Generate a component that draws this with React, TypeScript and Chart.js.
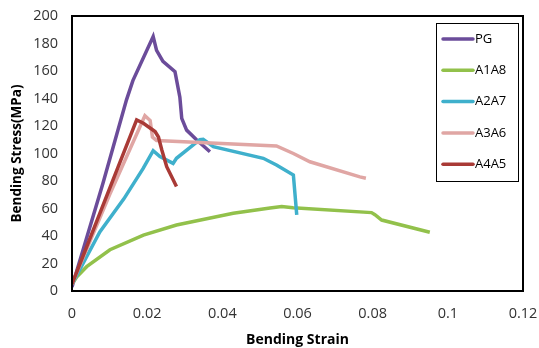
import React, { useEffect, useRef } from "react";
import { Chart, registerables } from "chart.js";

Chart.register(...registerables);

const seriesNames = ["PG", "A1A8", "A2A7", "A3A6", "A4A5"];
const seriesColors = ["#6B4C9A", "#92C14B", "#3FB0CC", "#E0A6A4", "#A93A36"];

const pgStrain = [0, 0.0082, 0.0145, 0.0162, 0.0216, 0.0225, 0.0242, 0.0274, 0.0287, 0.0292, 0.0305, 0.0332, 0.0367];
const pgStress = [3, 78, 139, 153, 185, 175, 167, 159.5, 141, 125.6, 117, 109.8, 101.3];

const a1a8Strain = [0, 0.0013, 0.0039, 0.0101, 0.019, 0.0278, 0.0429, 0.0527, 0.0558, 0.0588, 0.0797, 0.0806, 0.0824, 0.0952];
const a1a8Stress = [5, 10.4, 17.7, 30, 40.7, 48, 56.5, 60.4, 61.4, 60.6, 57, 55.5, 51.6, 42.7];

const a2a7Strain = [0, 0.0074, 0.0138, 0.0189, 0.0216, 0.0234, 0.0269, 0.0278, 0.034, 0.0349, 0.0376, 0.0509, 0.0544, 0.0589, 0.0598];
const a2a7Stress = [5, 43, 67, 89, 102, 97.7, 92.8, 96.5, 110, 110.3, 105, 96.5, 91.6, 84.4, 55.3];

const a3a6Strain = [0, 0.01, 0.0185, 0.0194, 0.0208, 0.0214, 0.0225, 0.0544, 0.0589, 0.0633, 0.0766, 0.0782];
const a3a6Stress = [5, 70, 122, 127.5, 124, 112, 109.5, 105.5, 100, 94, 83, 82];

const a4a5Strain = [0, 0.0172, 0.019, 0.0221, 0.023, 0.0239, 0.0252, 0.0278];
const a4a5Stress = [5, 124.4, 122, 116, 112, 102.5, 90.4, 76];

const strainSets = [pgStrain, a1a8Strain, a2a7Strain, a3a6Strain, a4a5Strain];
const stressSets = [pgStress, a1a8Stress, a2a7Stress, a3a6Stress, a4a5Stress];

const xTitle = "Bending Strain";
const yTitle = "Bending Stress(MPa)";

const framePlugin = {
  id: "frame",
  afterDatasetsDraw(chart: any) {
    const { ctx, chartArea: a } = chart;
    ctx.save();
    ctx.strokeStyle = "#000";
    ctx.lineWidth = 2;
    ctx.strokeRect(a.left, a.top, a.right - a.left, a.bottom - a.top);
    ctx.restore();
  },
};

const legendPlugin = {
  id: "boxLegend",
  afterDraw(chart: any) {
    const { ctx } = chart;
    const x0 = 436, y0 = 23, w = 82, h = 158;
    ctx.save();
    ctx.fillStyle = "#fff";
    ctx.fillRect(x0, y0, w, h);
    ctx.strokeStyle = "#000";
    ctx.lineWidth = 1;
    ctx.strokeRect(x0 + 0.5, y0 + 0.5, w, h);
    ctx.font = "13px 'Open Sans'";
    ctx.textBaseline = "middle";
    chart.data.datasets.forEach((ds: any, i: number) => {
      const y = 39 + i * 31.3;
      ctx.strokeStyle = ds.borderColor;
      ctx.lineWidth = 3.5;
      ctx.lineCap = "round";
      ctx.beginPath();
      ctx.moveTo(443, y);
      ctx.lineTo(473, y);
      ctx.stroke();
      ctx.fillStyle = "#000";
      ctx.fillText(ds.label, 475, y);
    });
    ctx.restore();
  },
};

export default function App() {
  const ref = useRef<HTMLCanvasElement>(null);
  useEffect(() => {
    const datasets = seriesNames.map((name, i) => ({
      label: name,
      data: strainSets[i].map((x, j) => ({ x, y: stressSets[i][j] })),
      borderColor: seriesColors[i],
      backgroundColor: seriesColors[i],
      borderWidth: 3.5,
      pointRadius: 0,
      tension: 0,
      fill: false,
      order: seriesNames.length - i,
    }));
    const tickFont = { family: "'Open Sans'", size: 14.5 };
    const chart = new Chart(ref.current!, {
      type: "line",
      data: { datasets },
      options: {
        animation: false,
        responsive: false,
        layout: { padding: { left: 0, right: 16, top: 16, bottom: 0 } },
        plugins: { legend: { display: false }, tooltip: { enabled: false } },
        scales: {
          x: {
            type: "linear",
            min: 0,
            max: 0.12,
            grid: { display: false, drawTicks: false },
            border: { display: false },
            ticks: {
              stepSize: 0.02,
              padding: 14,
              color: "#333",
              font: tickFont,
              maxRotation: 0,
              callback: (v: any) => String(Number(Number(v).toFixed(2))),
            },
            title: {
              display: true,
              text: xTitle,
              color: "#000",
              font: { family: "'Open Sans'", size: 14, weight: "bold" },
              padding: { top: 0, bottom: 0 },
            },
            afterFit: (s: any) => {
              s.height = 57;
              s.paddingLeft = 0;
              s.paddingRight = 0;
            },
          },
          y: {
            type: "linear",
            min: 0,
            max: 200,
            grid: { display: false, drawTicks: false },
            border: { display: false },
            ticks: { stepSize: 20, padding: 14, color: "#333", font: tickFont },
            title: {
              display: true,
              text: yTitle,
              color: "#000",
              font: { family: "'Open Sans'", size: 13.5, weight: "bold" },
              padding: { top: 9, bottom: 0 },
            },
            afterFit: (s: any) => {
              s.width = 72;
              s.paddingTop = 0;
              s.paddingBottom = 0;
            },
          },
        },
      },
      plugins: [framePlugin, legendPlugin],
    });
    return () => chart.destroy();
  }, []);
  return (
    <div style={{ position: "absolute", left: 0, top: 0, width: 539, height: 348, background: "#fff" }}>
      <canvas ref={ref} width={539} height={348} />
    </div>
  );
}
